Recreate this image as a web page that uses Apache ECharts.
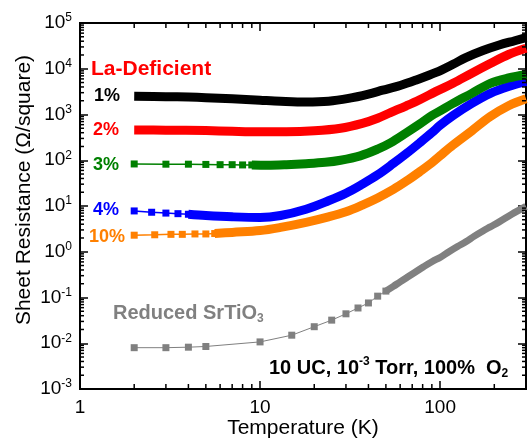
<!DOCTYPE html>
<html><head><meta charset="utf-8">
<script src="https://cdn.jsdelivr.net/npm/echarts@6/dist/echarts.min.js"></script>
<style>html,body{margin:0;padding:0;background:#fff}#c{width:532px;height:440px}</style>
</head><body><div id="c"></div>
<script>
// ---------- data ----------
// 1% La-deficient
const tempBlack = [2,3,4,5,7,10,13,18,24,31,40,48,60,73,95,118,139,173,213,260,300];
const resBlack  = [2500,2450,2400,2330,2200,2050,1950,1880,1950,2250,2800,3400,4300,5600,8300,12500,17500,25000,33000,41000,48000];
// 2%
const tempRed = [2,3,5,7,10,14,20,28,37,45,53,65,77,95,118,150,190,240,300];
const resRed  = [460,455,445,430,420,420,440,500,640,830,1100,1550,2100,3200,4800,8000,13000,20500,28000];
// 3% (sparse low-T points, then dense)
const tempGreenLow = [2,3,4,5,6,7,8,9];
const resGreenLow  = [83,82,82,81,80,80,79,79];
const tempGreen = [9,11,14,18,23,28,36,45,53,65,77,90,100,118,150,190,240,300];
const resGreen  = [79,78,80,84,90,100,125,175,240,400,620,950,1200,1750,2900,4800,6300,7500];
// 4%
const tempBlueLow = [2,2.5,3,3.5,4];
const resBlueLow  = [7.8,7.3,7.0,6.8,6.6];
const tempBlue = [4,5,7,10,13,18,24,30,37,45,55,65,77,90,100,118,150,190,240,300];
const resBlue  = [6.6,6.2,5.8,5.6,6.2,8.5,13,19,30,48,85,140,240,400,580,950,1750,2900,4100,5200];
// 10%
const tempOrangeLow = [2,2.6,3.2,3.7,4.35,5,5.6];
const resOrangeLow  = [2.3,2.35,2.4,2.4,2.45,2.45,2.5];
const tempOrange = [5.6,7,10,13,18,24,30,37,45,55,65,77,90,100,118,150,190,240,300];
const resOrange  = [2.5,2.65,2.9,3.4,4.4,5.8,7.5,10.5,15,23,35,56,88,125,215,440,900,1550,2200];
// Reduced SrTiO3
const tempGrayLow = [2,3,4,5,10,15,20,25,30,35,40,45,50];
const resGrayLow  = [0.008,0.008,0.0082,0.0085,0.0107,0.015,0.023,0.032,0.044,0.059,0.076,0.107,0.138];
const tempGray = [50,55,60,66,73,81,91,100,112,125,139,155,173,190,213,250,300];
const resGray  = [0.138,0.175,0.22,0.28,0.36,0.47,0.62,0.75,1.0,1.3,1.65,2.2,2.85,3.5,4.5,6.6,9.8];

// axis ranges / tick values
const xRange = [1, 300];
const yRange = [1e-3, 1e5];
const minorMultipliers = [2,3,4,5,6,7,8,9];
const xDecades = [1,10,100];
const yDecades = [1e-3,1e-2,1e-1,1,10,100,1e3,1e4];

// ---------- chart ----------
const FONT = '"Liberation Sans", Arial, Helvetica, sans-serif';
const zip = (t, r) => t.map((v, i) => [v, r[i]]);
const xMinor = [];
xDecades.forEach(d => minorMultipliers.forEach(m => { const v = d*m; if (v < xRange[1]) xMinor.push(v); }));
const yMinor = [];
yDecades.forEach(d => minorMultipliers.forEach(m => yMinor.push(d*m)));

const C = {black:'#000000', red:'#ff0000', green:'#008000', blue:'#0000ff', orange:'#ff8000', gray:'#808080'};

function dense(name, t, r, color, w) {
  return {name, type:'line', data: zip(t, r), showSymbol:false, smooth:0.35,
    lineStyle:{color, width:w||9, cap:'butt', join:'round'}, itemStyle:{color}, z:3};
}
function sparse(name, t, r, color, lw) {
  return {name, type:'line', data: zip(t, r), symbol:'rect', symbolSize:7, showSymbol:true,
    lineStyle:{color, width:lw||1.5}, itemStyle:{color}, z:4};
}

const tickStyle = {stroke:'#000', lineWidth:1.5};
const minorX = {
  type:'custom', data: xMinor.map(v => [v, 1]), encode:{x:0, y:1}, silent:true, z:10,
  renderItem: (p, api) => {
    const v = api.value(0);
    const b = api.coord([v, yRange[0]]), t = api.coord([v, yRange[1]]);
    return {type:'group', children:[
      {type:'line', shape:{x1:b[0], y1:b[1], x2:b[0], y2:b[1]-5}, style:tickStyle},
      {type:'line', shape:{x1:t[0], y1:t[1], x2:t[0], y2:t[1]+5}, style:tickStyle}]};
  }
};
const minorY = {
  type:'custom', data: yMinor.map(v => [10, v]), encode:{x:0, y:1}, silent:true, z:10,
  renderItem: (p, api) => {
    const v = api.value(1);
    const l = api.coord([xRange[0], v]), r = api.coord([xRange[1], v]);
    return {type:'group', children:[
      {type:'line', shape:{x1:l[0], y1:l[1], x2:l[0]+4, y2:l[1]}, style:tickStyle},
      {type:'line', shape:{x1:r[0], y1:r[1], x2:r[0]-4, y2:r[1]}, style:tickStyle}]};
  }
};

const supLabel = {
  fontFamily: FONT, color:'#000',
  formatter: v => '{b|10}{s|' + Math.round(Math.log10(v)) + '}',
  rich: {
    b: {fontSize:19, fontFamily:FONT, color:'#000', lineHeight:22, verticalAlign:'middle'},
    s: {fontSize:12, fontFamily:FONT, color:'#000', lineHeight:12, verticalAlign:'top'}
  },
  margin: 8
};
const axTick = {show:true, inside:true, length:8, lineStyle:{color:'#000', width:1.5}};

const chart = echarts.init(document.getElementById('c'), null, {renderer:'canvas'});
chart.setOption({
  animation:false,
  backgroundColor:'#fff',
  grid:{left:80, right:6, top:23, bottom:51, show:true, borderColor:'#000', borderWidth:2, backgroundColor:'transparent'},
  xAxis:[
    {type:'log', logBase:10, min:xRange[0], max:xRange[1], axisLine:{show:false}, splitLine:{show:false},
     axisTick:axTick, axisLabel:{fontSize:19, fontFamily:FONT, color:'#000', margin:9, showMaxLabel:false,
       formatter: v => (Math.abs(Math.log10(v) - Math.round(Math.log10(v))) < 1e-6 ? String(v) : '')}},
    {type:'log', logBase:10, min:xRange[0], max:xRange[1], position:'top', axisLine:{show:false}, splitLine:{show:false},
     axisTick:axTick, axisLabel:{show:false}}
  ],
  yAxis:[
    {type:'log', logBase:10, min:yRange[0], max:yRange[1], axisLine:{show:false}, splitLine:{show:false},
     axisTick:axTick, axisLabel:supLabel},
    {type:'log', logBase:10, min:yRange[0], max:yRange[1], position:'right', axisLine:{show:false}, splitLine:{show:false},
     axisTick:axTick, axisLabel:{show:false}}
  ],
  series:[
    sparse('SrTiO3 low', tempGrayLow, resGrayLow, C.gray, 1),
    dense('SrTiO3', tempGray, resGray, C.gray, 7),
    sparse('10% low', tempOrangeLow, resOrangeLow, C.orange),
    dense('10%', tempOrange, resOrange, C.orange),
    sparse('4% low', tempBlueLow, resBlueLow, C.blue),
    dense('4%', tempBlue, resBlue, C.blue),
    sparse('3% low', tempGreenLow, resGreenLow, C.green),
    dense('3%', tempGreen, resGreen, C.green),
    dense('2%', tempRed, resRed, C.red),
    dense('1%', tempBlack, resBlack, C.black),
    minorX, minorY
  ],
  graphic:[
    {type:'text', x:24, y:190, rotation:Math.PI/2, style:{text:'Sheet Resistance (\u03A9/square)', font:'21px '+FONT, fill:'#000', align:'center', verticalAlign:'middle'}},
    {type:'text', x:303, y:428, style:{text:'Temperature (K)', font:'21px '+FONT, fill:'#000', align:'center', verticalAlign:'middle'}},
    {type:'text', x:91, y:69, style:{text:'La-Deficient', font:'bold 21px '+FONT, fill:C.red, verticalAlign:'middle'}},
    {type:'text', x:94, y:96, style:{text:'1%', font:'bold 18px '+FONT, fill:C.black, verticalAlign:'middle'}},
    {type:'text', x:93, y:130, style:{text:'2%', font:'bold 18px '+FONT, fill:C.red, verticalAlign:'middle'}},
    {type:'text', x:93, y:165, style:{text:'3%', font:'bold 18px '+FONT, fill:C.green, verticalAlign:'middle'}},
    {type:'text', x:93, y:210, style:{text:'4%', font:'bold 18px '+FONT, fill:C.blue, verticalAlign:'middle'}},
    {type:'text', x:89, y:237, style:{text:'10%', font:'bold 18px '+FONT, fill:C.orange, verticalAlign:'middle'}},
    {type:'text', x:113, y:313, style:{
      text:'{m|Reduced SrTiO}{d|3}', verticalAlign:'middle',
      rich:{m:{font:'bold 20px '+FONT, fill:C.gray, lineHeight:24, verticalAlign:'middle'},
            d:{font:'bold 12px '+FONT, fill:C.gray, lineHeight:12, verticalAlign:'bottom'}}}},
    {type:'text', x:269, y:368, style:{
      text:'{m|10 UC, 10}{p|-3}{m| Torr, 100%  O}{d|2}', verticalAlign:'middle',
      rich:{m:{font:'bold 20px '+FONT, fill:'#000', lineHeight:24, verticalAlign:'middle'},
            p:{font:'bold 12px '+FONT, fill:'#000', lineHeight:12, verticalAlign:'top'},
            d:{font:'bold 12px '+FONT, fill:'#000', lineHeight:12, verticalAlign:'bottom'}}}}
  ]
});
</script></body></html>
